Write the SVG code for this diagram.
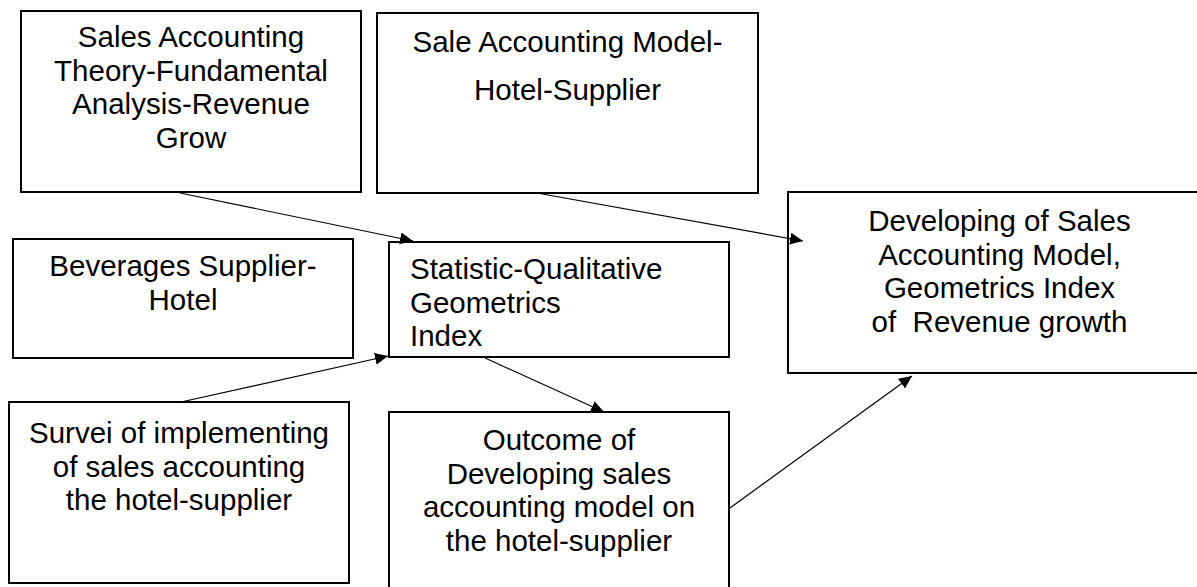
<svg xmlns="http://www.w3.org/2000/svg" width="1197" height="587" viewBox="0 0 1197 587">
<defs>
<style>
.box{fill:#fff;stroke:#000;stroke-width:2}
.t{font-family:"Liberation Sans",Arial,sans-serif;font-size:29.5px;fill:#000}
.c{text-anchor:middle}
.edge{stroke:#000;stroke-width:1.2;fill:none;marker-end:url(#ah)}
</style>
<marker id="ah" markerUnits="userSpaceOnUse" markerWidth="14" markerHeight="12" refX="13" refY="6" orient="auto">
<path d="M0,0 L13,6 L0,12 z" fill="#000"/>
</marker>
</defs>
<rect width="1197" height="587" fill="#fff"/>
<g id="n1">
<rect class="box" x="21" y="11" width="340" height="181"/>
<text class="t c" x="191" y="47">Sales Accounting</text>
<text class="t c" x="191" y="80.5">Theory-Fundamental</text>
<text class="t c" x="191" y="114">Analysis-Revenue</text>
<text class="t c" x="191" y="147.5">Grow</text>
</g>
<g id="n2">
<rect class="box" x="377" y="13" width="381" height="180"/>
<text class="t c" x="567.5" y="52">Sale Accounting Model-</text>
<text class="t c" x="567.5" y="100">Hotel-Supplier</text>
</g>
<g id="n3">
<rect class="box" x="13" y="239" width="340" height="119"/>
<text class="t c" x="183" y="276">Beverages Supplier-</text>
<text class="t c" x="183" y="310">Hotel</text>
</g>
<g id="n4">
<rect class="box" x="389" y="242" width="340" height="115"/>
<text class="t" x="410" y="279">Statistic-Qualitative</text>
<text class="t" x="410" y="312.5">Geometrics</text>
<text class="t" x="410" y="346">Index</text>
</g>
<g id="n5">
<rect class="box" x="788" y="192" width="422" height="181"/>
<text class="t c" x="999.5" y="231">Developing of Sales</text>
<text class="t c" x="999.5" y="264.5">Accounting Model,</text>
<text class="t c" x="999.5" y="298">Geometrics Index</text>
<text class="t c" x="999.5" y="331.5" xml:space="preserve">of  Revenue growth</text>
</g>
<g id="n6">
<rect class="box" x="9" y="402" width="340" height="181"/>
<text class="t c" x="179" y="443">Survei of implementing</text>
<text class="t c" x="179" y="476.5">of sales accounting</text>
<text class="t c" x="179" y="510">the hotel-supplier</text>
</g>
<g id="n7">
<rect class="box" x="389" y="412" width="340" height="200"/>
<text class="t c" x="559" y="450">Outcome of</text>
<text class="t c" x="559" y="483.5">Developing sales</text>
<text class="t c" x="559" y="517">accounting model on</text>
<text class="t c" x="559" y="550.5">the hotel-supplier</text>
</g>
<g id="connectors">
<line class="edge" x1="180" y1="193" x2="413" y2="241"/>
<line class="edge" x1="537" y1="193" x2="803" y2="241"/>
<line class="edge" x1="181" y1="402" x2="388" y2="356"/>
<line class="edge" x1="485" y1="358" x2="604" y2="412"/>
<line class="edge" x1="730" y1="508" x2="912" y2="376"/>
</g>
</svg>
